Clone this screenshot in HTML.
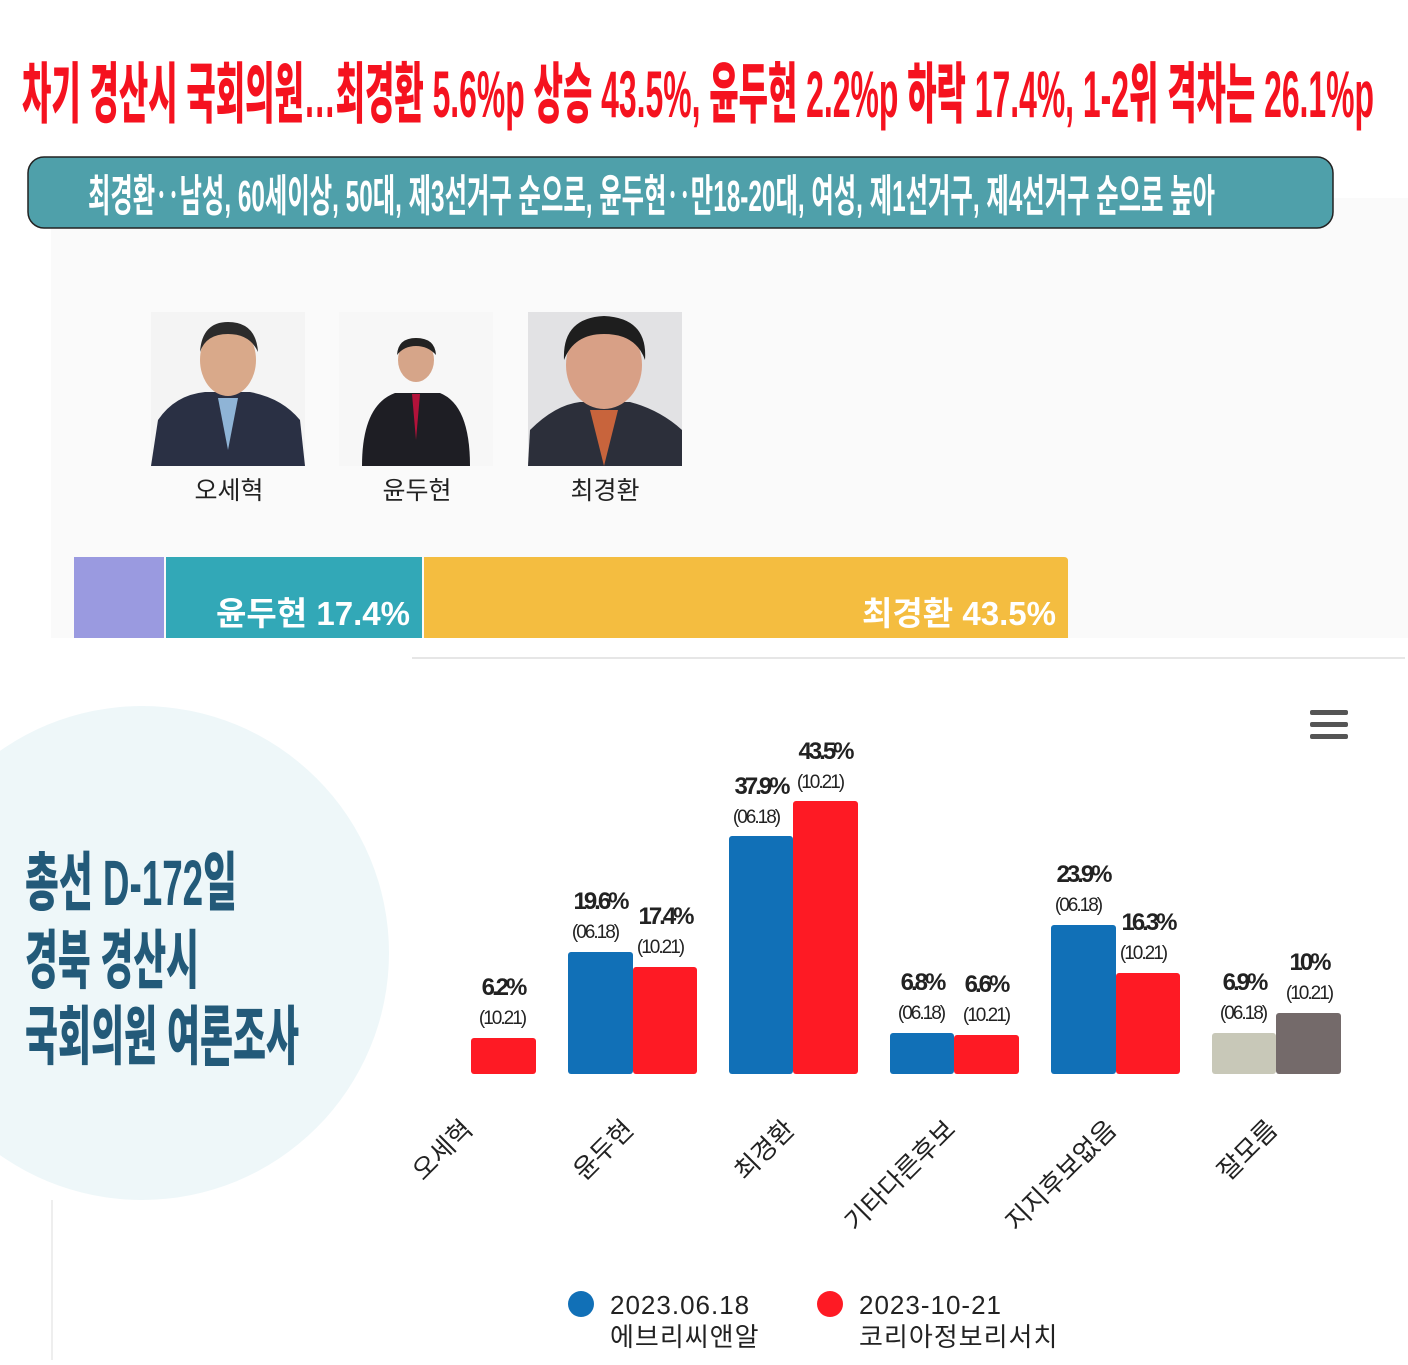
<!DOCTYPE html>
<html><head><meta charset="utf-8"><style>
html,body{margin:0;padding:0;background:#fff;}
svg text{font-family:"Liberation Sans","Noto Sans CJK KR",sans-serif;}
</style></head><body>
<svg width="1408" height="1360" viewBox="0 0 1408 1360" xmlns="http://www.w3.org/2000/svg">
<rect width="1408" height="1360" fill="#fff"/>
<text x="22" y="117" font-size="66" font-weight="900" fill="#f5121f" textLength="1352" lengthAdjust="spacingAndGlyphs">차기 경산시 국회의원…최경환 5.6%p 상승 43.5%, 윤두현 2.2%p 하락 17.4%, 1-2위 격차는 26.1%p</text>
<rect x="51" y="198" width="1357" height="440" fill="#fafafa"/>
<rect x="28" y="157" width="1305" height="71" rx="16" fill="#4fa0aa" stroke="#222" stroke-width="1.5"/>
<text x="88" y="211" font-size="44" font-weight="700" fill="#fff" textLength="1127" lengthAdjust="spacingAndGlyphs">최경환‥남성, 60세이상, 50대, 제3선거구 순으로, 윤두현‥만18-20대, 여성, 제1선거구, 제4선거구 순으로 높아</text>
<g>
<rect x="151" y="312" width="154" height="154" fill="#f4f4f4"/>
<path d="M151 466 L158 420 Q175 395 205 392 L250 392 Q282 398 300 420 L305 466Z" fill="#2a3044"/>
<ellipse cx="228" cy="360" rx="28" ry="36" fill="#d9a98a"/>
<path d="M200 352 Q202 322 228 322 Q256 322 258 352 Q250 334 228 334 Q206 334 200 352Z" fill="#2b2b2b"/>
<path d="M218 398 L228 450 L238 398Z" fill="#8fb4d6"/>
<rect x="339" y="312" width="154" height="154" fill="#f7f7f7"/>
<path d="M362 466 Q362 405 395 393 L440 393 Q470 405 470 466Z" fill="#1e1e24"/>
<ellipse cx="416" cy="360" rx="18" ry="22" fill="#d6a589"/>
<path d="M397 355 Q398 338 416 338 Q435 338 436 355 Q428 346 416 346 Q404 346 397 355Z" fill="#222"/>
<path d="M412 394 L416 440 L420 394Z" fill="#b3123a"/>
<rect x="528" y="312" width="154" height="154" fill="#e2e2e4"/>
<path d="M528 466 L530 430 Q555 405 580 402 L630 402 Q660 410 682 430 L682 466Z" fill="#2c2f3a"/>
<ellipse cx="604" cy="365" rx="38" ry="44" fill="#d8a086"/>
<path d="M564 360 Q562 318 604 316 Q648 318 645 360 Q636 334 604 334 Q574 334 564 360Z" fill="#1e1e1e"/>
<path d="M590 410 L604 466 L618 410Z" fill="#c8643c"/>
</g>
<text x="229" y="499" font-size="25" text-anchor="middle" fill="#222">오세혁</text>
<text x="417" y="499" font-size="25" text-anchor="middle" fill="#222">윤두현</text>
<text x="605" y="499" font-size="25" text-anchor="middle" fill="#222">최경환</text>
<rect x="74" y="557" width="90" height="81" fill="#9a9ae0"/>
<rect x="166" y="557" width="256" height="81" fill="#32a8b7"/>
<path d="M424 557 H1064 Q1068 557 1068 561 V638 H424Z" fill="#f4bd40"/>
<text x="410" y="625" font-size="33" font-weight="700" fill="#fff" text-anchor="end" textLength="194" lengthAdjust="spacingAndGlyphs">윤두현 17.4%</text>
<text x="1056" y="625" font-size="33" font-weight="700" fill="#fff" text-anchor="end" textLength="194" lengthAdjust="spacingAndGlyphs">최경환 43.5%</text>
<line x1="412" y1="658" x2="1405" y2="658" stroke="#e6e6e6" stroke-width="2"/>
<circle cx="142" cy="953" r="247" fill="#eef7f9"/>
<line x1="52" y1="1200" x2="52" y2="1360" stroke="#ddd" stroke-width="1"/>
<g font-weight="900" fill="#235a79" font-size="64">
<text x="25" y="905" textLength="212" lengthAdjust="spacingAndGlyphs">총선 D-172일</text>
<text x="25" y="983" textLength="174" lengthAdjust="spacingAndGlyphs">경북 경산시</text>
<text x="25" y="1059" textLength="274" lengthAdjust="spacingAndGlyphs">국회의원 여론조사</text>
</g>
<g fill="#555"><rect x="1310" y="710" width="38" height="5" rx="2"/><rect x="1310" y="722" width="38" height="5" rx="2"/><rect x="1310" y="734" width="38" height="5" rx="2"/></g>
<rect x="471" y="1038" width="65" height="36" rx="3" fill="#fe1a24"/>
<rect x="568" y="952" width="65" height="122" rx="3" fill="#1170b7"/>
<rect x="633" y="967" width="64" height="107" rx="3" fill="#fe1a24"/>
<rect x="729" y="836" width="64" height="238" rx="3" fill="#1170b7"/>
<rect x="793" y="801" width="65" height="273" rx="3" fill="#fe1a24"/>
<rect x="890" y="1033" width="64" height="41" rx="3" fill="#1170b7"/>
<rect x="954" y="1035" width="65" height="39" rx="3" fill="#fe1a24"/>
<rect x="1051" y="925" width="65" height="149" rx="3" fill="#1170b7"/>
<rect x="1116" y="973" width="64" height="101" rx="3" fill="#fe1a24"/>
<rect x="1212" y="1033" width="64" height="41" rx="3" fill="#c8c8b8"/>
<rect x="1276" y="1013" width="65" height="61" rx="3" fill="#746a6a"/>
<g fill="#222" text-anchor="middle">
<g font-size="24" font-weight="700" letter-spacing="-3">
<text x="503" y="995">6.2%</text>
<text x="600" y="909">19.6%</text>
<text x="665" y="924">17.4%</text>
<text x="761" y="794">37.9%</text>
<text x="825" y="759">43.5%</text>
<text x="922" y="990">6.8%</text>
<text x="986" y="992">6.6%</text>
<text x="1083" y="882">23.9%</text>
<text x="1148" y="930">16.3%</text>
<text x="1244" y="990">6.9%</text>
<text x="1309" y="970">10%</text>
</g>
<g font-size="19" letter-spacing="-2">
<text x="502" y="1024">(10.21)</text>
<text x="595" y="938">(06.18)</text>
<text x="660" y="953">(10.21)</text>
<text x="756" y="823">(06.18)</text>
<text x="820" y="788">(10.21)</text>
<text x="921" y="1019">(06.18)</text>
<text x="986" y="1021">(10.21)</text>
<text x="1078" y="911">(06.18)</text>
<text x="1143" y="959">(10.21)</text>
<text x="1243" y="1019">(06.18)</text>
<text x="1309" y="999">(10.21)</text>
</g>
</g>
<g font-size="26" fill="#222" text-anchor="end">
<text transform="translate(474,1131) rotate(-45)">오세혁</text>
<text transform="translate(635,1131) rotate(-45)">윤두현</text>
<text transform="translate(796,1131) rotate(-45)">최경환</text>
<text transform="translate(957,1131) rotate(-45)">기타다른후보</text>
<text transform="translate(1118,1131) rotate(-45)">지지후보없음</text>
<text transform="translate(1279,1131) rotate(-45)">잘모름</text>
</g>
<circle cx="581" cy="1304" r="13" fill="#1170b7"/>
<circle cx="830" cy="1304" r="13" fill="#fe1a24"/>
<g font-size="26" fill="#222" letter-spacing="1">
<text x="610" y="1314">2023.06.18</text>
<text x="610" y="1346">에브리씨앤알</text>
<text x="859" y="1314">2023-10-21</text>
<text x="859" y="1346">코리아정보리서치</text>
</g>
</svg>
</body></html>
